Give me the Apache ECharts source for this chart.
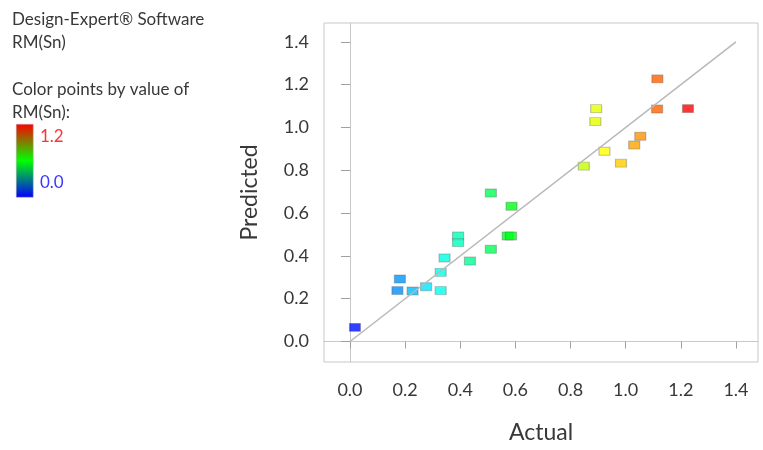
<!DOCTYPE html>
<html>
<head>
<meta charset="utf-8">
<script src="https://cdn.jsdelivr.net/npm/echarts@6/dist/echarts.min.js"></script>
<style>
html,body{margin:0;padding:0;background:#fff;}
#chart{width:763px;height:450px;}
</style>
</head>
<body>
<div id="chart"></div>
<script>
// Data
const actual = [0.018, 0.181, 0.172, 0.227, 0.276, 0.329, 0.329, 0.343, 0.392, 0.392, 0.435, 0.511, 0.511, 0.586, 0.572, 0.584, 0.848, 0.890, 0.893, 0.923, 0.983, 1.031, 1.053, 1.115, 1.114, 1.226];
const predicted = [0.066, 0.292, 0.238, 0.236, 0.256, 0.238, 0.323, 0.390, 0.493, 0.462, 0.376, 0.694, 0.431, 0.632, 0.493, 0.493, 0.819, 1.027, 1.088, 0.889, 0.833, 0.918, 0.959, 1.227, 1.086, 1.088];
const tickValues = [0.0, 0.2, 0.4, 0.6, 0.8, 1.0, 1.2, 1.4];
const diagonal = [0, 1.4];
const colorRange = [0, 1.23];
const legendLabels = ['1.2', '0.0'];

const points = actual.map((a, i) => [a, predicted[i]]);
const lineData = diagonal.map(v => [v, v]);

const font = 'Lato';
const textColor = '#383838';

const chart = echarts.init(document.getElementById('chart'));
chart.setOption({
  animation: false,
  backgroundColor: '#ffffff',
  grid: {
    left: 324, right: 5, top: 23, bottom: 88,
    show: true, borderColor: '#c8c8c8', borderWidth: 1
  },
  xAxis: {
    type: 'value',
    min: -0.0943, max: 1.48,
    name: 'Actual',
    nameLocation: 'middle',
    nameGap: 59,
    nameTextStyle: { fontFamily: font, fontSize: 23, color: textColor },
    axisLine: { show: true, lineStyle: { color: '#c8c8c8' } },
    axisTick: { show: true, length: 7, customValues: tickValues, lineStyle: { color: '#a0a0a0' } },
    axisLabel: {
      customValues: tickValues, margin: 19,
      formatter: v => v.toFixed(1),
      fontFamily: font, fontSize: 18, color: textColor
    },
    splitLine: { show: false }
  },
  yAxis: {
    type: 'value',
    min: -0.0958, max: 1.488,
    name: 'Predicted',
    nameLocation: 'middle',
    nameGap: 63,
    nameTextStyle: { fontFamily: font, fontSize: 23, color: textColor },
    axisLine: { show: true, lineStyle: { color: '#c8c8c8' } },
    axisTick: { show: true, length: 9, customValues: tickValues, lineStyle: { color: '#a0a0a0' } },
    axisLabel: {
      customValues: tickValues, margin: 15,
      formatter: v => v.toFixed(1),
      fontFamily: font, fontSize: 18, color: textColor
    },
    splitLine: { show: false }
  },
  visualMap: {
    type: 'continuous',
    show: false,
    seriesIndex: 1,
    dimension: 0,
    min: colorRange[0], max: colorRange[1],
    inRange: { color: ['#0000ff', '#00ffff', '#00ff00', '#ffff00', '#ff0000'] }
  },
  series: [
    {
      type: 'line',
      data: lineData,
      symbol: 'none',
      lineStyle: { color: '#b8b8b8', width: 1.5 },
      silent: true
    },
    {
      type: 'scatter',
      data: points,
      symbol: 'rect',
      symbolSize: [11, 8],
      itemStyle: { borderColor: 'rgba(90,90,90,0.45)', borderWidth: 1 }
    }
  ],
  graphic: [
    { type: 'text', left: 12, top: 11, style: { text: 'Design-Expert® Software', font: '17px ' + font, fill: textColor } },
    { type: 'text', left: 12, top: 34, style: { text: 'RM(Sn)', font: '17px ' + font, fill: textColor } },
    { type: 'text', left: 12, top: 81, style: { text: 'Color points by value of', font: '17px ' + font, fill: textColor } },
    { type: 'text', left: 12, top: 104, style: { text: 'RM(Sn):', font: '17px ' + font, fill: textColor } },
    {
      type: 'rect', left: 16, top: 124,
      shape: { width: 17, height: 73 },
      style: {
        fill: new echarts.graphic.LinearGradient(0, 0, 0, 1, [
          { offset: 0, color: '#ff0000' },
          { offset: 0.5, color: '#00ff00' },
          { offset: 1, color: '#0000ff' }
        ]),
        stroke: '#b0b0b0', lineWidth: 0.5
      }
    },
    { type: 'text', left: 40, top: 128, style: { text: legendLabels[0], font: '17px ' + font, fill: '#ff3333' } },
    { type: 'text', left: 40, top: 174, style: { text: legendLabels[1], font: '17px ' + font, fill: '#3a3aff' } }
  ]
});
</script>
</body>
</html>
